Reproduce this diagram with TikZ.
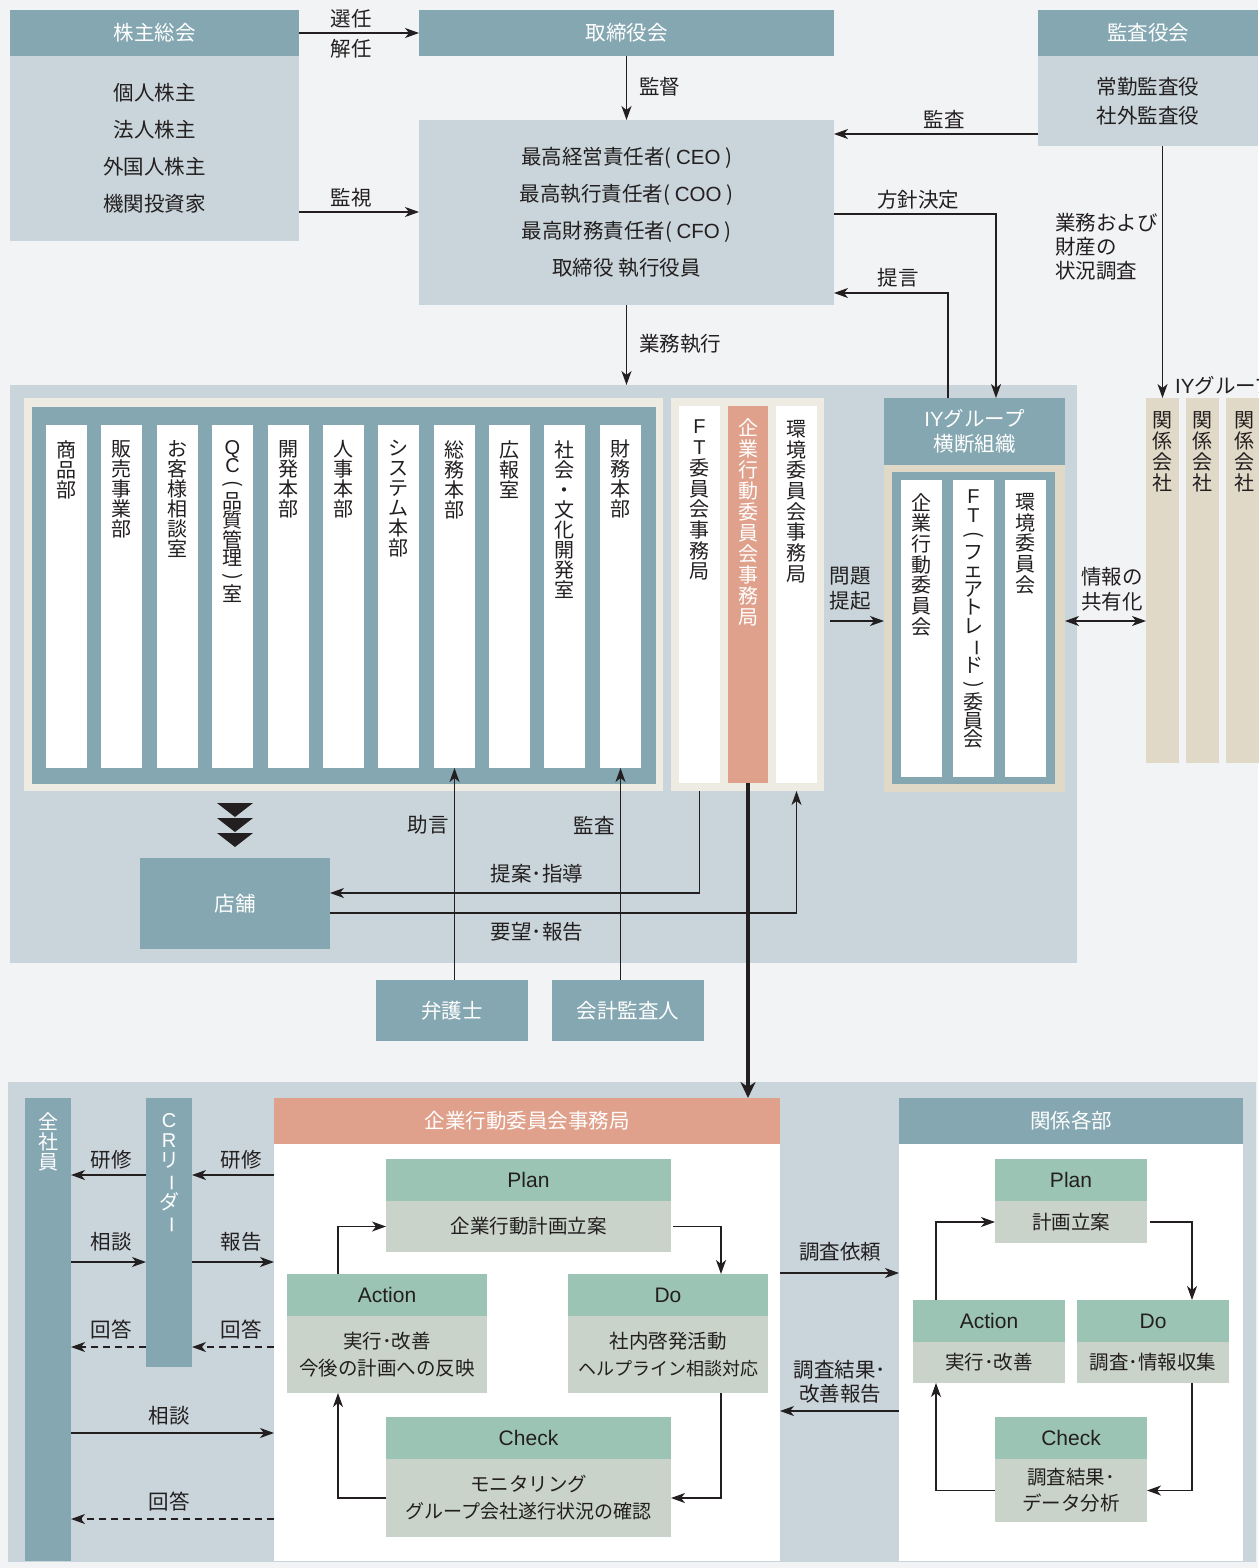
\documentclass[tikz,border=0pt]{standalone}
\usepackage{fontspec}
\usepackage{graphicx}
\setmainfont{Noto Sans CJK JP}
\newfontfamily\lat{Liberation Sans}
\usetikzlibrary{arrows.meta,calc}
\definecolor{cBg}{RGB}{242,243,245}
\definecolor{cTeal}{RGB}{133,167,177}
\definecolor{cPale}{RGB}{201,213,218}
\definecolor{cCream}{RGB}{238,235,226}
\definecolor{cBeige}{RGB}{225,217,199}
\definecolor{cSalmon}{RGB}{224,161,140}
\definecolor{cGh}{RGB}{156,196,181}
\definecolor{cGb}{RGB}{201,211,201}
\definecolor{cInk}{RGB}{35,31,32}
\newcommand\rt[1]{\rotatebox[origin=c]{-90}{#1}}
\newcommand\rtb[1]{\rotatebox[origin=c]{-90}{\scalebox{0.85}[1]{#1}}}
\newcommand\rbox[7][]{\node[blk,minimum width={#5-#3},minimum height={#6-#4},#1] (#2) at (#3,#4) {#7};}
\tikzset{
 blk/.style={anchor=north west,inner sep=0pt,outer sep=0pt,align=center,text=cInk,font=\fontsize{20.5}{24}\selectfont},
 >={Stealth[length=14pt,width=10pt,inset=4pt]},
 ln/.style={draw=cInk,line width=1.3pt},
 dln/.style={ln,dash pattern=on 7pt off 5pt},
 lbl/.style={inner sep=0pt,text=cInk,font=\fontsize{20.5}{24}\selectfont,align=center},
 vt/.style={inner sep=0pt,anchor=north,align=center,font=\fontsize{20}{20}\selectfont,text=cInk},
 wvt/.style={vt,text=white},
 pbody/.style={fill=cGb,font=\fontsize{19.5}{27}\selectfont},
 phead/.style={fill=cGh,font=\lat\fontsize{21}{24}\selectfont},
}
\begin{document}
\begin{tikzpicture}[x=1pt,y=-1pt]
\useasboundingbox (0,0) rectangle (1258,1568);
\fill[cBg] (0,0) rectangle (1258,1568);
% ---------- top ----------
\rbox[fill=cTeal,text=white]{kabuH}{10}{10}{299}{56}{株主総会}
\rbox[fill=cPale,font=\fontsize{20.5}{37}\selectfont]{kabuB}{10}{56}{299}{241}{個人株主\\法人株主\\外国人株主\\機関投資家}
\rbox[fill=cTeal,text=white]{toriH}{419}{10}{834}{56}{取締役会}
\rbox[fill=cPale,font=\fontsize{20.5}{37}\selectfont]{ceo}{419}{120}{834}{305}{最高経営責任者( {\lat CEO} )\\最高執行責任者( {\lat COO} )\\最高財務責任者( {\lat CFO} )\\取締役 執行役員}
\rbox[fill=cTeal,text=white]{kansaH}{1038}{10}{1258}{56}{監査役会}
\rbox[fill=cPale,font=\fontsize{20.5}{29}\selectfont]{kansaB}{1038}{56}{1258}{146}{常勤監査役\\社外監査役}
% ---------- middle ----------
\rbox[fill=cPale]{mid}{10}{385}{1077}{963}{}
\rbox[fill=cCream]{cr1}{24}{398}{663}{791}{}
\rbox[fill=cTeal]{tl1}{32}{407}{656}{784}{}
\rbox[fill=white]{c1}{46}{425}{87}{768}{}
\rbox[fill=white]{c2}{101}{425}{142}{768}{}
\rbox[fill=white]{c3}{157}{425}{198}{768}{}
\rbox[fill=white]{c4}{212}{425}{253}{768}{}
\rbox[fill=white]{c5}{268}{425}{309}{768}{}
\rbox[fill=white]{c6}{323}{425}{364}{768}{}
\rbox[fill=white]{c7}{378}{425}{419}{768}{}
\rbox[fill=white]{c8}{434}{425}{475}{768}{}
\rbox[fill=white]{c9}{489}{425}{530}{768}{}
\rbox[fill=white]{c10}{544}{425}{585}{768}{}
\rbox[fill=white]{c11}{600}{425}{641}{768}{}
\node[vt] (t1) at ([yshift=-15pt]c1.north) {商\\品\\部};
\node[vt] (t2) at ([yshift=-15pt]c2.north) {販\\売\\事\\業\\部};
\node[vt] (t3) at ([yshift=-15pt]c3.north) {お\\客\\様\\相\\談\\室};
\node[vt,font=\fontsize{20}{18}\selectfont] (t4) at ([yshift=-15pt]c4.north) {{\lat Q}\\{\lat C}\\\rt{(}\\品\\質\\管\\理\\\rt{)}\\室};
\node[vt] (t5) at ([yshift=-15pt]c5.north) {開\\発\\本\\部};
\node[vt] (t6) at ([yshift=-15pt]c6.north) {人\\事\\本\\部};
\node[vt] (t7) at ([yshift=-15pt]c7.north) {シ\\ス\\テ\\ム\\本\\部};
\node[vt] (t8) at ([yshift=-15pt]c8.north) {総\\務\\本\\部};
\node[vt] (t9) at ([yshift=-15pt]c9.north) {広\\報\\室};
\node[vt] (t10) at ([yshift=-15pt]c10.north) {社\\会\\・\\文\\化\\開\\発\\室};
\node[vt] (t11) at ([yshift=-15pt]c11.north) {財\\務\\本\\部};
\rbox[fill=cCream]{cr2}{671}{398}{824}{791}{}
\rbox[fill=white]{ftc}{679}{406}{720}{783}{}
\rbox[fill=cSalmon]{salc}{728}{406}{768}{783}{}
\rbox[fill=white]{kanc}{776}{406}{817}{783}{}
\node[vt,font=\fontsize{20}{20.7}\selectfont] (tf) at ([yshift=-14pt]ftc.north) {{\lat F}\\{\lat T}\\委\\員\\会\\事\\務\\局};
\node[wvt,font=\fontsize{20}{21}\selectfont] (ts) at ([yshift=-12pt]salc.north) {企\\業\\行\\動\\委\\員\\会\\事\\務\\局};
\node[vt,font=\fontsize{20}{20.7}\selectfont] (tk) at ([yshift=-14pt]kanc.north) {環\\境\\委\\員\\会\\事\\務\\局};
\rbox[fill=cTeal,text=white,font=\fontsize{20.5}{25}\selectfont]{iyH}{884}{398}{1065}{465}{{\lat IY}グループ\\横断組織}
\rbox[fill=cBeige]{iyF}{884}{465}{1065}{792}{}
\rbox[fill=cTeal]{iyT}{892}{472}{1055}{784}{}
\rbox[fill=white]{i1}{901}{480}{942}{777}{}
\rbox[fill=white]{i2}{953}{480}{994}{777}{}
\rbox[fill=white]{i3}{1005}{480}{1046}{777}{}
\node[vt,font=\fontsize{20}{20.7}\selectfont] (ti1) at ([yshift=-13pt]i1.north) {企\\業\\行\\動\\委\\員\\会};
\node[vt,font=\fontsize{20}{18.5}\selectfont] (ti2) at ([yshift=-10pt]i2.north) {{\lat F}\\{\lat T}\\\rt{(}\\フ\\ェ\\ア\\ト\\レ\\\rtb{ー}\\ド\\\rt{)}\\委\\員\\会};
\node[vt,font=\fontsize{20}{20.7}\selectfont] (ti3) at ([yshift=-13pt]i3.north) {環\\境\\委\\員\\会};
\rbox[fill=cBeige]{kc1}{1146}{398}{1179}{763}{}
\rbox[fill=cBeige]{kc2}{1186}{398}{1219}{763}{}
\rbox[fill=cBeige]{kc3}{1226}{398}{1262}{763}{}
\node[vt,font=\fontsize{20}{21}\selectfont] (tk1) at ([yshift=-13pt]kc1.north) {関\\係\\会\\社};
\node[vt,font=\fontsize{20}{21}\selectfont] (tk2) at ([yshift=-13pt]kc2.north) {関\\係\\会\\社};
\node[vt,font=\fontsize{20}{21}\selectfont] (tk3) at ([yshift=-13pt]kc3.north) {関\\係\\会\\社};
\fill[cInk] (217,803) -- (253,803) -- (235,817) -- cycle;
\fill[cInk] (217,818) -- (253,818) -- (235,832) -- cycle;
\fill[cInk] (217,833) -- (253,833) -- (235,847) -- cycle;
\rbox[fill=cTeal,text=white]{tenpo}{140}{858}{330}{949}{店舗}
\rbox[fill=cTeal,text=white]{bengo}{376}{980}{528}{1041}{弁護士}
\rbox[fill=cTeal,text=white]{kaikei}{552}{980}{704}{1041}{会計監査人}
% ---------- bottom ----------
\rbox[fill=cPale]{bot}{8}{1082}{1256}{1562}{}
\rbox[fill=cTeal]{zen}{25}{1098}{71}{1561}{}
\node[wvt] (tz) at ([yshift=-14pt]zen.north) {全\\社\\員};
\rbox[fill=cTeal]{cr}{146}{1098}{192}{1367}{}
\node[wvt,font=\fontsize{20}{20}\selectfont] (tc) at ([yshift=-15pt]cr.north) {{\lat C}\\{\lat R}\\リ\\\rtb{ー}\\ダ\\\rtb{ー}};
\rbox[fill=cSalmon,text=white]{kigyoH}{274}{1098}{780}{1144}{企業行動委員会事務局}
\rbox[fill=white]{kigyoB}{274}{1144}{780}{1561}{}
\rbox[fill=cTeal,text=white]{kankeiH}{899}{1098}{1243}{1144}{関係各部}
\rbox[fill=white]{kankeiB}{899}{1144}{1243}{1561}{}
% PDCA left
\rbox[phead]{pH}{386}{1159}{671}{1201}{Plan}
\rbox[pbody]{pB}{386}{1201}{671}{1252}{企業行動計画立案}
\rbox[phead]{aH}{287}{1274}{487}{1316}{Action}
\rbox[pbody]{aB}{287}{1316}{487}{1393}{実行･改善\\今後の計画への反映}
\rbox[phead]{dH}{568}{1274}{768}{1316}{Do}
\rbox[pbody]{dB}{568}{1316}{768}{1393}{社内啓発活動\\{\fontsize{18}{27}\selectfont ヘルプライン相談対応}}
\rbox[phead]{chH}{386}{1417}{671}{1459}{Check}
\rbox[pbody]{chB}{386}{1459}{671}{1537}{モニタリング\\{\fontsize{19}{27}\selectfont グループ会社遂行状況の確認}}
% PDCA right
\rbox[phead]{pH2}{995}{1159}{1147}{1201}{Plan}
\rbox[pbody]{pB2}{995}{1201}{1147}{1243}{計画立案}
\rbox[phead]{aH2}{913}{1300}{1065}{1342}{Action}
\rbox[pbody]{aB2}{913}{1342}{1065}{1383}{実行･改善}
\rbox[phead]{dH2}{1077}{1300}{1229}{1342}{Do}
\rbox[pbody]{dB2}{1077}{1342}{1229}{1383}{調査･情報収集}
\rbox[phead]{chH2}{995}{1417}{1147}{1459}{Check}
\rbox[pbody,font=\fontsize{19.5}{26}\selectfont]{chB2}{995}{1459}{1147}{1522}{調査結果･\\データ分析}
% ---------- helper coordinates ----------
\coordinate (y212) at (0,212);
\coordinate (y134) at (0,134);
\coordinate (p214) at (996,214);
\coordinate (p293) at (948,293);
\coordinate (m621) at (830,621);
\coordinate (y893) at (0,893);
\coordinate (y913) at (0,913);
\coordinate (y1175) at (0,1175);
\coordinate (y1262) at (0,1262);
\coordinate (y1347) at (0,1347);
\coordinate (y1433) at (0,1433);
\coordinate (y1519) at (0,1519);
\coordinate (y1273) at (0,1273);
\coordinate (y1411) at (0,1411);
\coordinate (xL) at (338,0);
\coordinate (xR) at (721,0);
\coordinate (xL2) at (936,0);
\coordinate (xR2) at (1192,0);
% ---------- connectors ----------
\draw[ln,->] (kabuH.east) -- (toriH.west);
\draw[ln,->] (kabuB.east |- y212) -- (ceo.west |- y212);
\draw[ln,->] (toriH.south) -- (ceo.north);
\draw[ln,->] (ceo.south) -- (ceo.south |- mid.north);
\draw[ln,->] (kansaB.west |- y134) -- (ceo.east |- y134);
\draw[ln,->] (ceo.east |- p214) -| (p214 |- iyH.north);
\draw[ln,->] (p293 |- iyH.north) |- (ceo.east |- p293);
\draw[ln,->] (kc1.north |- kansaB.south) -- (kc1.north);
\draw[ln,->] (m621) -- (iyF.west |- m621);
\draw[ln,<->] (iyF.east |- m621) -- (kc1.west |- m621);
\draw[ln,->] (c8.south |- bengo.north) -- (c8.south);
\draw[ln,->] (c11.south |- kaikei.north) -- (c11.south);
\draw[ln,->] (ftc.south |- cr2.south) |- (tenpo.east |- y893);
\draw[ln,->] (tenpo.east |- y913) -| (kanc.south |- cr2.south);
\draw[draw=cInk,line width=4.5pt,-{Stealth[length=16pt,width=15pt,inset=5pt]}] (salc.south) -- (salc.south |- kigyoH.north);
\draw[ln,->] (cr.west |- y1175) -- (zen.east |- y1175);
\draw[ln,->] (kigyoB.west |- y1175) -- (cr.east |- y1175);
\draw[ln,->] (zen.east |- y1262) -- (cr.west |- y1262);
\draw[ln,->] (cr.east |- y1262) -- (kigyoB.west |- y1262);
\draw[dln,->] (cr.west |- y1347) -- (zen.east |- y1347);
\draw[dln,->] (kigyoB.west |- y1347) -- (cr.east |- y1347);
\draw[ln,->] (zen.east |- y1433) -- (kigyoB.west |- y1433);
\draw[dln,->] (kigyoB.west |- y1519) -- (zen.east |- y1519);
\draw[ln,->] (kigyoB.east |- y1273) -- (kankeiB.west |- y1273);
\draw[ln,->] (kankeiB.west |- y1411) -- (kigyoB.east |- y1411);
\draw[ln,->] (aH.north -| xL) |- (pB.west);
\draw[ln,->] ([xshift=2pt]pB.east) -| (dH.north -| xR);
\draw[ln,->] (dB.south -| xR) |- (chB.east);
\draw[ln,->] (chB.west) -| (aB.south -| xL);
\draw[ln,->] (aH2.north -| xL2) |- (pB2.west);
\draw[ln,->] ([xshift=3pt]pB2.east) -| (dH2.north -| xR2);
\draw[ln,->] (dB2.south -| xR2) |- (chB2.east);
\draw[ln,->] (chB2.west) -| (aB2.south -| xL2);
% ---------- labels ----------
\node[lbl] (l1) at (351,19) {選任};
\node[lbl] (l2) at (351,49) {解任};
\node[lbl] (l3) at (351,198) {監視};
\node[lbl,anchor=west] (l4) at (639,87) {監督};
\node[lbl,anchor=west] (l5) at (639,344) {業務執行};
\node[lbl] (l6) at (944,119) {監査};
\node[lbl] (l7) at (918,200) {方針決定};
\node[lbl] (l8) at (898,278) {提言};
\node[lbl,anchor=west,align=left] (l9) at (1055,247) {業務および\\財産の\\状況調査};
\node[lbl,anchor=west] (l10) at (1175,386) {{\lat IY}グループ};
\node[lbl,font=\fontsize{20.5}{25}\selectfont] (l11) at (850,589) {問題\\提起};
\node[lbl,font=\fontsize{20.5}{25}\selectfont] (l12) at (1112,589) {情報の\\共有化};
\node[lbl] (l13) at (428,825) {助言};
\node[lbl] (l14) at (594,825) {監査};
\node[lbl] (l15) at (537,874) {提案･指導};
\node[lbl] (l16) at (537,932) {要望･報告};
\node[lbl] (l17) at (111,1160) {研修};
\node[lbl] (l18) at (241,1160) {研修};
\node[lbl] (l19) at (111,1242) {相談};
\node[lbl] (l20) at (241,1242) {報告};
\node[lbl] (l21) at (111,1330) {回答};
\node[lbl] (l22) at (241,1330) {回答};
\node[lbl] (l23) at (169,1416) {相談};
\node[lbl] (l24) at (169,1502) {回答};
\node[lbl] (l25) at (840,1252) {調査依頼};
\node[lbl] (l26) at (840,1382) {調査結果･\\改善報告};
\end{tikzpicture}
\end{document}
